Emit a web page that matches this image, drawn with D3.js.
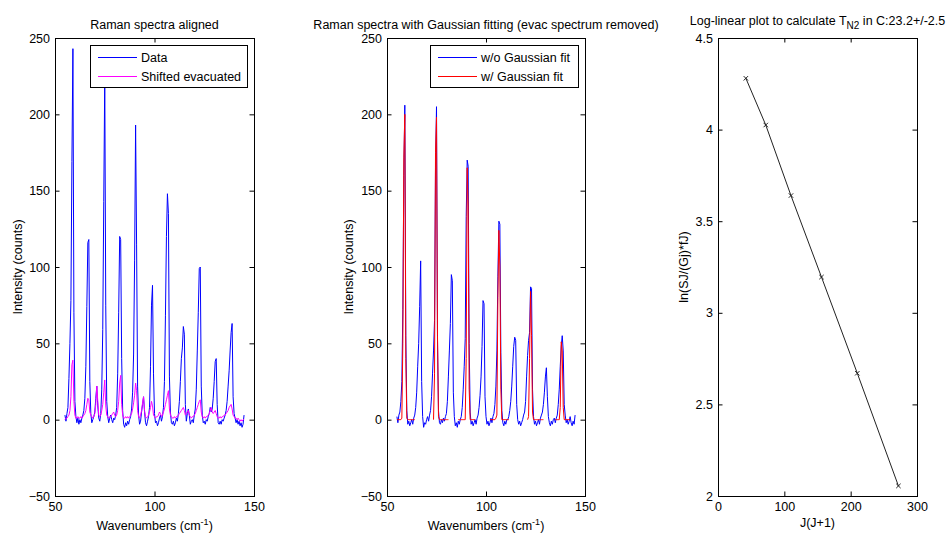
<!DOCTYPE html>
<html>
<head>
<meta charset="utf-8">
<script src="https://cdn.jsdelivr.net/npm/d3@7"></script>
<style>
body { margin: 0; background: #fff; }
text { font-family: "Liberation Sans", Arial, Helvetica, sans-serif; }
</style>
</head>
<body>
<div id="chart"></div>
<script>
// spectra are sampled on a regular wavenumber grid (cm-1)
var wnStart = 55, wnStep = 0.5;

// panel 1 : aligned data (blue), rows of 10 samples starting at 55, 60, 65 ...
var alignedData = [
  3, -1, 4, 8, 27, 50, 78, 169, 243, 70,
  12, 2, -2, 1, -3, 0, -2, 1, 3, 6,
  14, 35, 74, 116, 118, 25, 4, -2, 0, 2,
  5, 14, 22, 9, 1, -1, 4, 20, 59, 143,
  225, 75, 12, 2, -2, 1, 3, 0, -2, 1,
  0, 3, 8, 30, 70, 120, 118, 40, 6, -3,
  -5, -2, -4, -1, -3, 0, 2, 7, 18, 43,
  104, 193, 115, 22, 3, -3, -1, 5, 10, 15,
  5, -2, -4, -1, 2, 8, 35, 75, 88, 30,
  4, -2, -1, -4, -2, 1, 3, -1, 2, 8,
  25, 68, 120, 148, 135, 28, 5, -2, -3, -1,
  -4, -2, 1, -1, 4, 12, 25, 40, 47, 61,
  56, 10, -1, 4, 7, 3, -3, -1, 0, -2,
  3, 7, 20, 45, 70, 99, 100, 22, 3, -2,
  -1, -3, 0, -1, 2, 4, 8, 5, 7, 14,
  25, 38, 40, 10, -2, -3, -1, -3, 0, -1,
  1, 3, 6, 12, 22, 32, 45, 57, 63, 15,
  4, 1, -2, 0, -3, -1, -4, -2, -5, -3,
  3];

// panel 1 : shifted evacuated spectrum (magenta)
var shiftedEvac = [
  0, 1, 1, 2, 3, 6, 15, 36, 39, 12,
  3, 1, 1, 2, 1, 1, 2, 1, 2, 3,
  4, 6, 10, 14, 13, 5, 3, 2, 1, 2,
  4, 10, 22, 12, 3, 2, 3, 6, 10, 18,
  26, 9, 3, 2, 1, 2, 2, 3, 4, 5,
  3, 2, 3, 6, 12, 24, 29, 10, 3, 1,
  1, 2, 1, 2, 1, 2, 3, 4, 7, 11,
  16, 24, 19, 6, 2, 1, 3, 6, 11, 15,
  6, 2, 1, 2, 3, 5, 8, 12, 9, 3,
  2, 1, 2, 2, 3, 5, 4, 2, 3, 5,
  7, 10, 13, 16, 19, 7, 3, 2, 1, 1,
  2, 1, 2, 2, 3, 4, 5, 6, 7, 8,
  6, 3, 4, 5, 6, 3, 2, 1, 2, 2,
  3, 4, 6, 8, 10, 12, 13, 5, 2, 1,
  2, 1, 2, 2, 3, 4, 6, 8, 5, 4,
  5, 6, 4, 2, 1, 1, 2, 1, 2, 2,
  3, 3, 4, 5, 6, 8, 9, 10, 7, 3,
  2, 1, 1, 0, 1, 0, -1, 0, -1, 0,
  0];

// panel 2 : evac removed, without gaussian fit (blue)
var noGaussData = [
  2, -2, 3, 5, 12, 25, 72, 160, 206, 55,
  6, -3, -1, -4, -2, 0, -3, 1, 3, 8,
  18, 35, 50, 74, 104, 25, 2, -5, -2, -3,
  0, 2, -1, 3, 6, 15, 30, 45, 65, 165,
  205, 53, 6, -2, -3, 0, -2, 1, -1, 2,
  4, 12, 28, 45, 63, 95, 91, 18, 2, -4,
  -2, -5, -1, -3, 0, 2, 8, 20, 35, 53,
  133, 170, 166, 50, 5, -3, -1, -4, -2, 0,
  -3, 1, 3, 8, 16, 28, 48, 78, 76, 15,
  2, -3, -1, -4, -2, 1, -2, 2, 4, 10,
  22, 45, 94, 130, 128, 44, 6, -2, -4, -1,
  -3, 0, 0, 2, 6, 12, 22, 35, 48, 54,
  52, 10, 0, -3, -1, -4, -2, 0, 3, 5,
  12, 28, 42, 52, 57, 87, 86, 20, 2, -3,
  -1, -4, -2, 0, -3, 1, 3, 5, 10, 18,
  28, 34, 15, 2, -2, -4, -1, -3, 0, 1,
  -2, 1, 3, 10, 20, 35, 48, 55, 45, 10,
  3, -2, 0, -3, -1, 2, -2, -4, -1, -3,
  3];

// panel 2 : gaussian fit (red), only inside the fit windows
var gaussFit = [
  0, 0, 0, 0, 0, 1, 50, 172, 200, 40,
  1, 0, 0, 0, 0, 0, 0, 0, 0, null,
  null, null, null, null, null, null, null, null, null, null,
  null, null, null, null, null, null, null, 0, 30, 175,
  198, 55, 2, 0, 0, 0, 0, 0, 0, 0,
  0, 0, 0, null, null, null, null, null, null, null,
  null, null, 0, 0, 0, 0, 0, 0, 0, 0,
  40, 165, 140, 20, 0, 0, 0, 0, 0, 0,
  null, null, null, null, null, null, null, null, null, null,
  null, null, null, null, 0, 0, 0, 0, 0, 0,
  1, 3, 80, 124, 100, 20, 0, 0, 0, 0,
  0, 0, 0, 0, null, null, null, null, null, null,
  null, null, null, null, null, null, null, null, null, null,
  null, null, 0, 2, 40, 84, 55, 5, 0, 0,
  0, 0, 0, 0, 0, 0, 0, 0, 0, null,
  null, null, null, null, null, null, null, null, null, null,
  0, 0, 0, 0, 0, 8, 51, 45, 8, 0,
  0, 0, 0, 0, 0, 0, null, null, null, null,
  null];

// panel 3 : log-linear plot
var jj1 = [42, 72, 110, 156, 210, 272];
var lnRatio = [4.28, 4.025, 3.64, 3.195, 2.67, 2.055];

// ticks
var spectraXTicks = [50, 100, 150];
var spectraYTicks = [-50, 0, 50, 100, 150, 200, 250];
var logXTicks = [0, 100, 200, 300];
var logYTicks = [2, 2.5, 3, 3.5, 4, 4.5];

var W = 947, H = 534;
var plotTop = 38, plotBottom = 496;
var tickLen = 4.5;
var fontSize = 12.5;

const svg = d3.select("#chart").append("svg")
  .attr("width", W)
  .attr("height", H)
  .style("background", "#fff");

// draw box, inward ticks on all four sides, labels left/bottom
function drawFrame(x, y, xTicks, yTicks) {
  var fmt = function (d) { return d3.format("~g")(d); };
  var g = svg.append("g");
  var x0 = x.range()[0], x1 = x.range()[1];

  g.append("g")
    .attr("transform", "translate(0," + plotBottom + ")")
    .call(d3.axisBottom(x).tickValues(xTicks).tickSizeInner(-tickLen).tickSizeOuter(0).tickPadding(6).tickFormat(fmt));
  g.append("g")
    .attr("transform", "translate(0," + plotTop + ")")
    .call(d3.axisTop(x).tickValues(xTicks).tickSizeInner(-tickLen).tickSizeOuter(0).tickFormat(""));
  g.append("g")
    .attr("transform", "translate(" + x0 + ",0)")
    .call(d3.axisLeft(y).tickValues(yTicks).tickSizeInner(-tickLen).tickSizeOuter(0).tickPadding(5).tickFormat(fmt));
  g.append("g")
    .attr("transform", "translate(" + x1 + ",0)")
    .call(d3.axisRight(y).tickValues(yTicks).tickSizeInner(-tickLen).tickSizeOuter(0).tickFormat(""));

  g.selectAll(".domain").remove();
  g.selectAll("text").attr("font-size", fontSize).attr("font-family", null).attr("fill", "#000");
  g.selectAll("g").attr("font-family", null).attr("font-size", null);

  g.append("rect")
    .attr("x", x0 + 0.5)
    .attr("y", plotTop + 0.5)
    .attr("width", x1 - x0)
    .attr("height", plotBottom - plotTop)
    .attr("fill", "none")
    .attr("stroke", "#000")
    .attr("stroke-width", 1);
  return g;
}

function spectrumLine(x, y) {
  return d3.line()
    .defined(function (d) { return d != null; })
    .x(function (d, i) { return x(wnStart + i * wnStep); })
    .y(function (d) { return y(d); });
}

function addTitle(cx, txt) {
  return svg.append("text")
    .attr("x", cx).attr("y", 28.5)
    .attr("text-anchor", "middle")
    .attr("font-size", fontSize)
    .text(txt);
}

function addYLabel(xPos, txt) {
  return svg.append("text")
    .attr("transform", "translate(" + xPos + "," + (plotTop + plotBottom) / 2 + ") rotate(-90)")
    .attr("text-anchor", "middle")
    .attr("font-size", fontSize)
    .text(txt);
}

function addWavenumberLabel(cx) {
  var t = svg.append("text")
    .attr("x", cx).attr("y", 529.5)
    .attr("text-anchor", "middle")
    .attr("font-size", fontSize);
  t.append("tspan").text("Wavenumbers (cm");
  t.append("tspan").attr("font-size", 9).attr("dy", -5).text("-1");
  t.append("tspan").attr("dy", 5).text(")");
}

function addLegend(box, items) {
  var g = svg.append("g");
  g.append("rect")
    .attr("x", box.x + 0.5).attr("y", box.y + 0.5)
    .attr("width", box.w).attr("height", box.h)
    .attr("fill", "#fff").attr("stroke", "#000");
  items.forEach(function (d, i) {
    var ly = [57.5, 76.5][i];
    g.append("line")
      .attr("x1", box.x + 8).attr("x2", box.x + 47)
      .attr("y1", ly).attr("y2", ly)
      .style("stroke", d.color).attr("stroke-width", 1);
    g.append("text")
      .attr("x", box.x + 51).attr("y", ly).attr("dy", "0.35em")
      .attr("font-size", fontSize)
      .text(d.label);
  });
}

// ---------------- panel 1 ----------------
var x1s = d3.scaleLinear().domain([50, 150]).range([55, 254]);
var y1s = d3.scaleLinear().domain([-50, 250]).range([plotBottom, plotTop]);

svg.append("path").datum(alignedData)
  .attr("d", spectrumLine(x1s, y1s))
  .attr("fill", "none").attr("stroke", "#0000ff").attr("stroke-width", 1);
svg.append("path").datum(shiftedEvac)
  .attr("d", spectrumLine(x1s, y1s))
  .attr("fill", "none").attr("stroke", "#ff00ff").attr("stroke-width", 1);
drawFrame(x1s, y1s, spectraXTicks, spectraYTicks);
addLegend({x: 90, y: 45, w: 157, h: 42},
  [{label: "Data", color: "#0000ff"}, {label: "Shifted evacuated", color: "#ff00ff"}]);
addTitle(154.5, "Raman spectra aligned");
addYLabel(22, "Intensity (counts)");
addWavenumberLabel(154.5);

// ---------------- panel 2 ----------------
var x2s = d3.scaleLinear().domain([50, 150]).range([387, 585]);
var y2s = d3.scaleLinear().domain([-50, 250]).range([plotBottom, plotTop]);

svg.append("path").datum(noGaussData)
  .attr("d", spectrumLine(x2s, y2s))
  .attr("fill", "none").attr("stroke", "#0000ff").attr("stroke-width", 1);
svg.append("path").datum(gaussFit)
  .attr("d", spectrumLine(x2s, y2s))
  .attr("fill", "none").attr("stroke", "#ff0000").attr("stroke-width", 1);
drawFrame(x2s, y2s, spectraXTicks, spectraYTicks);
addLegend({x: 430, y: 45, w: 148, h: 42},
  [{label: "w/o Gaussian fit", color: "#0000ff"}, {label: "w/ Gaussian fit", color: "#ff0000"}]);
addTitle(486, "Raman spectra with Gaussian fitting (evac spectrum removed)");
addYLabel(352.5, "Intensity (counts)");
addWavenumberLabel(486);

// ---------------- panel 3 ----------------
var x3s = d3.scaleLinear().domain([0, 300]).range([718, 917]);
var y3s = d3.scaleLinear().domain([2, 4.5]).range([plotBottom, plotTop]);
var logPts = jj1.map(function (d, i) { return [d, lnRatio[i]]; });

svg.append("path").datum(logPts)
  .attr("d", d3.line().x(function (d) { return x3s(d[0]); }).y(function (d) { return y3s(d[1]); }))
  .attr("fill", "none").attr("stroke", "#222").attr("stroke-width", 1);
svg.append("g").selectAll("path").data(logPts).enter().append("path")
  .attr("d", function (d) {
    var cx = x3s(d[0]), cy = y3s(d[1]), s = 2.2;
    return "M" + (cx - s) + "," + (cy - s) + "L" + (cx + s) + "," + (cy + s) +
           "M" + (cx - s) + "," + (cy + s) + "L" + (cx + s) + "," + (cy - s);
  })
  .attr("stroke", "#222").attr("stroke-width", 1).attr("fill", "none");
drawFrame(x3s, y3s, logXTicks, logYTicks);

var t3 = svg.append("text")
  .attr("x", 817.5).attr("y", 24.5)
  .attr("text-anchor", "middle")
  .attr("font-size", fontSize);
t3.append("tspan").text("Log-linear plot to calculate T");
t3.append("tspan").attr("font-size", 10).attr("dy", 4).text("N2");
t3.append("tspan").attr("dy", -4).text(" in C:23.2+/-2.5");

addYLabel(687.5, "ln(SJ/(Gj)*fJ)");
svg.append("text")
  .attr("x", 817.5).attr("y", 527)
  .attr("text-anchor", "middle")
  .attr("font-size", fontSize)
  .text("J(J+1)");
</script>
</body>
</html>
